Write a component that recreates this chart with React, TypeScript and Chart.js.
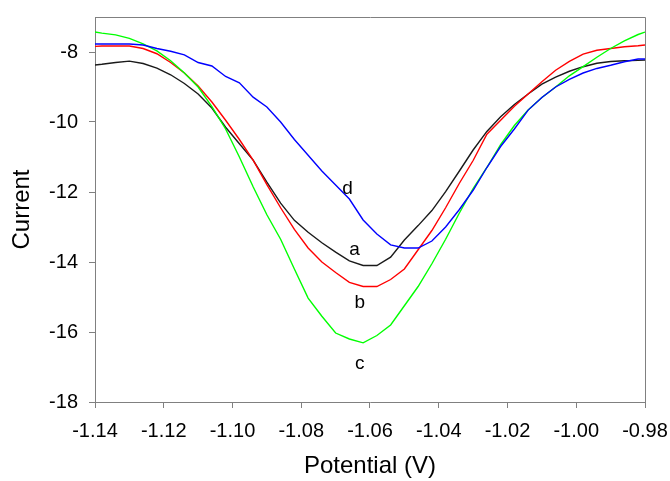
import React, { useEffect, useRef } from 'react';
import { Chart, registerables } from 'chart.js';

Chart.register(...registerables);

// Potential (V) sampled along the sweep
const potentials = [
  -1.14, -1.138, -1.134, -1.13, -1.126, -1.122, -1.118, -1.114, -1.11, -1.106,
  -1.102, -1.098, -1.094, -1.09, -1.086, -1.082, -1.078, -1.074, -1.07, -1.066,
  -1.062, -1.058, -1.054, -1.05, -1.046, -1.042, -1.038, -1.034, -1.03, -1.026,
  -1.022, -1.018, -1.014, -1.01, -1.006, -1.002, -0.998, -0.994, -0.99, -0.986,
  -0.982, -0.98,
];

// curve a (black)
const currentA = [
  -8.37, -8.35, -8.3, -8.26, -8.33, -8.46, -8.65, -8.9, -9.2, -9.6,
  -10.15, -10.62, -11.09, -11.72, -12.32, -12.81, -13.15, -13.45, -13.72, -13.97,
  -14.1, -14.1, -13.86, -13.37, -12.96, -12.53, -11.99, -11.4, -10.8, -10.27,
  -9.85, -9.5, -9.2, -8.92, -8.72, -8.55, -8.42, -8.32, -8.27, -8.25,
  -8.24, -8.23,
];

// curve b (red)
const currentB = [
  -7.84, -7.83, -7.83, -7.83, -7.9, -8.05, -8.3, -8.6, -8.97, -9.43,
  -9.95, -10.5, -11.09, -11.79, -12.45, -13.07, -13.6, -14.0, -14.3, -14.58,
  -14.7, -14.7, -14.5, -14.2, -13.65, -13.1, -12.45, -11.75, -11.1, -10.35,
  -9.95, -9.55, -9.2, -8.85, -8.52, -8.27, -8.06, -7.95, -7.9, -7.85,
  -7.82, -7.8,
];

// curve c (green)
const currentC = [
  -7.43, -7.46, -7.51, -7.61, -7.77, -7.97, -8.25, -8.6, -9.0, -9.56,
  -10.2, -11.0, -11.85, -12.65, -13.35, -14.2, -15.03, -15.55, -16.03, -16.2,
  -16.31, -16.1, -15.8, -15.25, -14.7, -14.05, -13.35, -12.6, -11.9, -11.3,
  -10.65, -10.1, -9.66, -9.3, -9.0, -8.68, -8.42, -8.15, -7.9, -7.68,
  -7.5, -7.43,
];

// curve d (blue)
const currentD = [
  -7.77, -7.77, -7.77, -7.77, -7.8, -7.9, -7.98, -8.08, -8.3, -8.4,
  -8.7, -8.88, -9.29, -9.57, -10.0, -10.5, -10.95, -11.4, -11.8, -12.2,
  -12.8, -13.2, -13.51, -13.6, -13.6, -13.4, -13.0, -12.5, -11.95, -11.3,
  -10.7, -10.2, -9.66, -9.3, -9.0, -8.78, -8.6, -8.47, -8.38, -8.28,
  -8.2, -8.2,
];

// curve annotations
const curveLabels = ['a', 'b', 'c', 'd'];
const labelPotentials = [-1.0645, -1.063, -1.063, -1.0665];
const labelCurrents = [-13.65, -15.17, -16.9, -11.9];

const xMin = -1.14;
const xMax = -0.98;
const xStep = 0.02;
const yMin = -18;
const yMax = -7;
const yStep = 2;

const FONT = 'Arial, "Liberation Sans", sans-serif';
const GRAY = '#808080';

const framePlugin = {
  id: 'frame',
  beforeDatasetsDraw(chart: any) {
    const { ctx, chartArea } = chart;
    const l = Math.round(chartArea.left) + 0.5;
    const t = Math.round(chartArea.top) + 0.5;
    const r = Math.round(chartArea.right) + 0.5;
    const b = Math.round(chartArea.bottom) + 0.5;
    ctx.save();
    ctx.strokeStyle = GRAY;
    ctx.lineWidth = 1;
    ctx.beginPath();
    ctx.moveTo(l, b);
    ctx.lineTo(l, t);
    ctx.lineTo(r, t);
    ctx.lineTo(r, b);
    ctx.stroke();
    ctx.restore();
  },
};

const curveLabelPlugin = {
  id: 'curveLabels',
  afterDatasetsDraw(chart: any) {
    const { ctx, scales } = chart;
    ctx.save();
    ctx.fillStyle = '#000';
    ctx.font = `19px ${FONT}`;
    ctx.textAlign = 'center';
    ctx.textBaseline = 'middle';
    curveLabels.forEach((txt, i) => {
      const px = scales.x.getPixelForValue(labelPotentials[i]);
      const py = scales.y.getPixelForValue(labelCurrents[i]);
      ctx.fillText(txt, px, py);
    });
    ctx.restore();
  },
};

function series(values: number[]) {
  return potentials.map((x, i) => ({ x, y: values[i] }));
}

export default function App() {
  const canvasRef = useRef<HTMLCanvasElement | null>(null);

  useEffect(() => {
    document.body.style.margin = '0';
    const canvas = canvasRef.current;
    if (!canvas) return;
    const mk = (label: string, values: number[], color: string) => ({
      label,
      data: series(values),
      borderColor: color,
      backgroundColor: color,
      borderWidth: 1.4,
      pointRadius: 0,
      tension: 0,
      fill: false,
    });
    const chart = new Chart(canvas, {
      type: 'line',
      data: {
        datasets: [
          mk('d', currentD, '#0000ff'),
          mk('c', currentC, '#00ff00'),
          mk('b', currentB, '#ff0000'),
          mk('a', currentA, '#1a1a1a'),
        ],
      },
      options: {
        animation: false,
        responsive: false,
        devicePixelRatio: 1,
        layout: { padding: { top: 17, right: 25, left: 0, bottom: 0 } },
        plugins: {
          legend: { display: false },
          tooltip: { enabled: false },
        },
        scales: {
          x: {
            type: 'linear',
            min: xMin,
            max: xMax,
            afterFit: (s: any) => {
              s.height = 79;
              s.paddingLeft = 0;
              s.paddingRight = 0;
            },
            ticks: {
              stepSize: xStep,
              maxRotation: 0,
              autoSkip: false,
              padding: 11,
              color: '#000',
              font: { family: FONT, size: 20 },
              callback: (v: any) => Number(v).toFixed(2),
            },
            grid: {
              drawOnChartArea: false,
              drawTicks: true,
              tickLength: 6,
              color: GRAY,
            },
            border: { display: true, color: GRAY, width: 1 },
            title: {
              display: true,
              text: 'Potential (V)',
              color: '#000',
              font: { family: FONT, size: 24 },
              padding: { top: 0, bottom: 0 },
            },
          },
          y: {
            type: 'linear',
            min: yMin,
            max: yMax,
            afterFit: (s: any) => {
              s.width = 95;
              s.paddingTop = 0;
              s.paddingBottom = 0;
            },
            ticks: {
              stepSize: yStep,
              includeBounds: false,
              padding: 11,
              color: '#000',
              font: { family: FONT, size: 20 },
              callback: (v: any) => String(Math.round(Number(v))),
            },
            grid: {
              drawOnChartArea: false,
              drawTicks: true,
              tickLength: 6,
              color: GRAY,
            },
            border: { display: true, color: GRAY, width: 1 },
            title: {
              display: true,
              text: 'Current',
              color: '#000',
              font: { family: FONT, size: 24 },
              padding: { top: 7.5, bottom: 0 },
            },
          },
        },
      },
      plugins: [framePlugin, curveLabelPlugin],
    });
    return () => chart.destroy();
  }, []);

  return (
    <div style={{ width: 670, height: 481 }}>
      <canvas ref={canvasRef} width={670} height={481} style={{ display: 'block' }} />
    </div>
  );
}
